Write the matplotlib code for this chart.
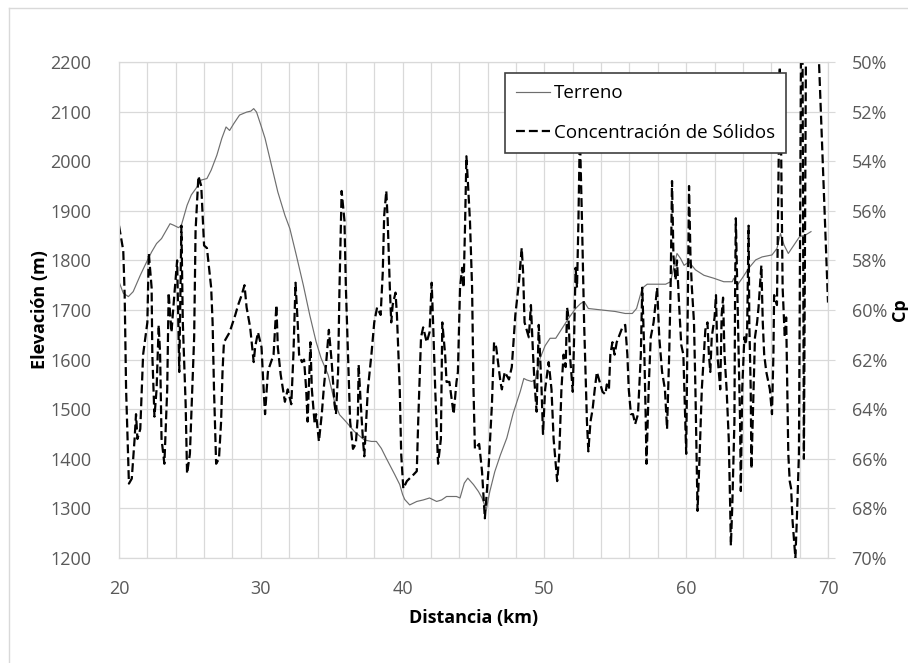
import matplotlib
matplotlib.use('Agg')
import matplotlib.pyplot as plt
from matplotlib.ticker import MultipleLocator, FuncFormatter
from matplotlib.lines import Line2D

plt.rcParams['font.family'] = ['Open Sans', 'DejaVu Sans']

# Terrain profile (km, m)
terreno_km = [20.0, 20.3, 20.66, 21.0, 21.5, 21.95, 22.3, 22.65, 23.0, 23.4, 23.6, 23.85, 24.2, 24.4,
              24.8, 25.1, 25.5, 25.8, 26.2, 26.5, 26.9, 27.25, 27.55, 27.8, 28.1, 28.5, 29.0, 29.3,
              29.5, 29.7, 30.0, 30.3, 30.75, 31.2, 31.7, 32.05, 32.5, 33.0, 33.45, 33.9, 34.25,
              34.75, 35.2, 35.55, 36.0, 36.6, 37.3, 37.8, 38.15, 38.5, 38.85, 39.45, 39.8, 40.0,
              40.15, 40.5, 41.0, 41.45, 41.9, 42.4, 42.75, 43.1, 43.45, 43.8, 44.05, 44.35, 44.6,
              45.0, 45.35, 45.6, 45.9, 46.15, 46.5, 46.9, 47.35, 47.8, 48.3, 48.55, 48.75, 49.1,
              49.35, 49.7, 50.05, 50.4, 50.8, 51.25, 51.7, 52.2, 52.55, 52.8, 53.1, 54.05, 55.0,
              55.7, 56.2, 56.5, 56.9, 57.25, 57.95, 58.55, 58.9, 59.1, 59.35, 59.6, 59.85, 60.2,
              60.65, 61.25, 61.95, 62.65, 63.25, 63.35, 63.6, 63.95, 64.4, 64.9, 65.35, 66.05,
              66.4, 66.65, 66.9, 67.2, 67.6, 68.0, 68.4, 68.8]
terreno_m = [1757, 1734, 1727, 1737, 1770, 1797, 1817, 1834, 1844, 1864, 1874, 1871, 1866, 1871,
             1911, 1932, 1948, 1962, 1965, 1982, 2012, 2046, 2069, 2062, 2076, 2093, 2099, 2101,
             2106, 2099, 2073, 2046, 1992, 1938, 1891, 1864, 1811, 1750, 1690, 1636, 1603,
             1569, 1515, 1489, 1475, 1455, 1438, 1435, 1435, 1421, 1401, 1368, 1348, 1328,
             1318, 1307, 1314, 1317, 1321, 1314, 1317, 1324, 1324, 1324, 1321, 1351, 1361,
             1348, 1334, 1321, 1297, 1334, 1374, 1408, 1442, 1492, 1536, 1562, 1559, 1556,
             1559, 1603, 1628, 1643, 1643, 1663, 1683, 1703, 1713, 1717, 1703, 1700, 1697,
             1693, 1693, 1703, 1744, 1752, 1752, 1752, 1757, 1784, 1814, 1804, 1790, 1797,
             1781, 1770, 1764, 1757, 1757, 1764, 1750, 1764, 1784, 1801, 1807, 1811,
             1824, 1854, 1831, 1814, 1831, 1848, 1851, 1858]

# Solids concentration (km, %)
cp_km = [20.0, 20.3, 20.4, 20.5, 20.7, 20.9, 21.1, 21.2, 21.3, 21.5, 21.7, 22.0, 22.1, 22.3, 22.35,
         22.5, 22.65, 22.8, 22.9, 23.0, 23.2, 23.4, 23.5, 23.7, 23.9, 24.1, 24.2, 24.25, 24.4,
         24.5, 24.7, 24.8, 25.0, 25.3, 25.4, 25.6, 25.8, 26.0, 26.2, 26.5, 26.6, 26.7, 26.85,
         27.05, 27.2, 27.3, 27.4, 27.8, 28.2, 28.4, 28.65, 28.85, 29.0, 29.25, 29.5, 29.6, 29.8,
         30.05, 30.2, 30.3, 30.5, 30.6, 30.9, 31.1, 31.2, 31.4, 31.7, 31.9, 32.15, 32.3, 32.45,
         32.6, 32.7, 32.9, 33.05, 33.2, 33.3, 33.5, 33.6, 33.8, 33.9, 34.1, 34.3, 34.45, 34.6,
         34.8, 35.0, 35.2, 35.3, 35.45, 35.55, 35.7, 35.9, 36.0, 36.15, 36.3, 36.5, 36.7, 36.85,
         36.9, 37.05, 37.2, 37.3, 37.55, 37.8, 38.0, 38.2, 38.45, 38.6, 38.7, 38.85, 38.95, 39.1,
         39.2, 39.3, 39.5, 39.6, 39.8, 39.9, 40.05, 40.3, 40.75, 41.0, 41.1, 41.3, 41.45, 41.7,
         41.9, 42.05, 42.15, 42.3, 42.5, 42.7, 42.8, 43.0, 43.1, 43.3, 43.6, 43.8, 43.9, 44.05,
         44.2, 44.3, 44.4, 44.5, 44.6, 44.75, 44.9, 45.0, 45.1, 45.4, 45.6, 45.8, 46.05, 46.3,
         46.45, 46.6, 46.9, 47.0, 47.2, 47.5, 47.7, 47.95, 48.2, 48.4, 48.5, 48.6, 48.9, 49.05,
         49.2, 49.3, 49.45, 49.6, 49.8, 49.9, 50.05, 50.3, 50.5, 50.65, 50.9, 51.05, 51.2, 51.35,
         51.5, 51.6, 51.7, 51.8, 52.0, 52.1, 52.2, 52.3, 52.4, 52.5, 52.65, 52.8, 52.9, 53.0,
         53.1, 53.25, 53.4, 53.55, 53.7, 53.9, 54.1, 54.3, 54.4, 54.55, 54.65, 54.8, 54.95, 55.1,
         55.3, 55.5, 55.7, 55.85, 55.95, 56.1, 56.25, 56.4, 56.6, 56.8, 56.9, 57.05, 57.15, 57.2,
         57.35, 57.5, 57.7, 57.95, 58.1, 58.3, 58.5, 58.65, 58.8, 58.9, 59.0, 59.1, 59.25, 59.35,
         59.5, 59.65, 59.8, 60.0, 60.1, 60.2, 60.3, 60.4, 60.55, 60.65, 60.75, 60.8, 60.95, 61.1,
         61.25, 61.35, 61.5, 61.6, 61.7, 61.8, 62.0, 62.1, 62.2, 62.4, 62.5, 62.6, 62.7, 62.85,
         63.0, 63.1, 63.15, 63.25, 63.4, 63.45, 63.5, 63.65, 63.8, 63.85, 63.95, 64.1, 64.2, 64.3,
         64.4, 64.45, 64.55, 64.6, 64.75, 64.85, 65.0, 65.1, 65.3, 65.4, 65.5, 65.65, 65.9, 66.05,
         66.15, 66.2, 66.4, 66.5, 66.6, 66.7, 66.8, 66.95, 67.05, 67.2, 67.3, 67.4, 67.5, 67.7,
         67.8, 67.95, 68.0, 68.1, 68.2, 68.3, 68.45, 69.3, 70.0]
cp_pct = [56.6, 57.6, 59.4, 63.2, 67.0, 66.8, 65.2, 64.2, 65.2, 64.8, 61.8, 60.5, 57.7, 59.1, 61.8,
          64.3, 63.2, 60.6, 61.8, 65.2, 66.2, 63.2, 59.3, 60.9, 59.4, 58.0, 60.9, 62.5, 56.6,
          60.5, 63.8, 66.6, 65.8, 61.1, 56.8, 54.6, 55.0, 57.4, 57.5, 59.1, 60.5, 63.2, 66.2,
          66.0, 64.5, 62.5, 61.3, 60.9, 60.2, 59.8, 59.4, 59.0, 59.9, 60.7, 62.1, 61.5, 60.9,
          61.5, 63.2, 64.2, 62.5, 62.3, 61.8, 59.8, 61.5, 62.6, 63.7, 63.2, 63.8, 61.8, 58.9,
          60.5, 61.8, 62.1, 62.0, 63.2, 64.5, 61.3, 63.2, 64.6, 64.2, 65.3, 64.2, 63.1, 62.2,
          60.8, 62.1, 63.8, 64.2, 62.5, 59.1, 55.2, 56.4, 59.1, 61.8, 64.5, 65.6, 65.4, 64.2,
          62.2, 63.8, 65.2, 65.9, 63.2, 61.8, 60.5, 59.9, 60.2, 58.5, 56.2, 55.2, 56.4, 59.1,
          60.5, 59.8, 59.3, 60.2, 63.2, 65.8, 67.2, 66.9, 66.65, 66.5, 64.5, 61.1, 60.7, 61.3,
          60.9, 58.9, 60.5, 63.2, 66.2, 65.2, 60.5, 61.8, 62.9, 62.9, 64.2, 62.9, 62.5, 59.1,
          58.3, 59.1, 56.7, 53.8, 54.8, 56.4, 59.1, 63.2, 65.6, 65.4, 66.5, 68.4, 66.5, 63.8,
          61.3, 61.5, 62.9, 63.2, 62.5, 62.8, 62.3, 60.2, 58.9, 57.5, 58.5, 60.5, 61.1, 59.8,
          61.8, 62.9, 64.1, 60.6, 63.2, 65.0, 63.2, 62.1, 63.2, 65.2, 66.9, 65.8, 63.2, 61.8,
          62.3, 59.9, 60.3, 61.8, 63.3, 61.0, 58.3, 59.1, 56.4, 52.8, 56.4, 60.5, 62.5, 64.5,
          65.7, 64.5, 64.0, 63.2, 62.5, 62.9, 63.3, 63.4, 63.0, 63.2, 61.8, 61.3, 61.8, 61.3,
          61.0, 60.7, 60.6, 61.8, 63.2, 64.2, 64.2, 64.6, 64.2, 61.8, 59.1, 61.8, 64.5, 66.2,
          63.2, 61.1, 60.5, 59.1, 61.1, 62.5, 63.2, 64.8, 61.8, 59.1, 54.8, 57.8, 58.8, 58.0,
          59.8, 61.4, 61.8, 65.8, 60.5, 55.0, 57.8, 59.1, 60.5, 63.2, 66.5, 68.1, 65.8, 63.2,
          61.8, 60.8, 60.5, 61.8, 62.5, 61.1, 60.3, 59.4, 61.8, 63.2, 60.2, 59.5, 61.8, 63.2,
          65.2, 67.9, 69.5, 67.9, 64.5, 59.1, 56.3, 60.5, 64.5, 67.3, 63.2, 61.1, 61.4, 60.7,
          56.6, 60.5, 63.2, 66.4, 63.2, 61.1, 60.5, 59.9, 58.2, 60.5, 61.8, 62.5, 63.2, 64.2,
          61.8, 59.4, 59.8, 55.0, 50.2, 53.8, 59.1, 61.1, 60.3, 65.8, 66.9, 67.2, 68.5, 70.0,
          68.5, 65.8, 60.5, 49.0, 49.0, 66.0, 49.0, 49.0, 59.7]

W, H = 908, 663
fig = plt.figure(figsize=(W / 100, H / 100), dpi=100)
ax = fig.add_axes([119 / W, 1 - 558 / H, (828 - 119) / W, (558 - 62) / H])
ax2 = ax.twinx()

grid_c = '#D9D9D9'
tick_c = '#595959'

# Terrain on primary axis
l1, = ax.plot(terreno_km, terreno_m, color='#6E6E6E', lw=0.85, label='Terreno')
ax.set_xlim(20, 70)
ax.set_ylim(1200, 2200)
ax.xaxis.set_major_locator(MultipleLocator(10))
ax.xaxis.set_minor_locator(MultipleLocator(2))
ax.yaxis.set_major_locator(MultipleLocator(100))
ax.grid(True, which='both', color=grid_c, lw=0.9)
ax.set_axisbelow(True)
ax.tick_params(axis='both', which='both', length=0, labelcolor=tick_c, labelsize=13)
ax.tick_params(axis='x', pad=16)
ax.tick_params(axis='y', pad=20)
ax.set_xlabel('Distancia (km)', fontsize=13, fontweight='bold', labelpad=8)
for s in ax.spines.values():
    s.set_color(grid_c)

# Cp on secondary axis (inverted)
l2, = ax2.plot(cp_km, cp_pct, color='black', lw=1.6, dashes=(4, 1.8),
               label='Concentración de Sólidos')
ax2.set_ylim(70, 50)
ax2.yaxis.set_major_locator(MultipleLocator(2))
ax2.yaxis.set_major_formatter(FuncFormatter(lambda v, p: '%d%%' % round(v)))
ax2.tick_params(axis='y', length=5, color=grid_c, labelcolor=tick_c, labelsize=13, pad=12)
for s in ax2.spines.values():
    s.set_color(grid_c)

fig.text(40 / W, 1 - 310 / H, 'Elevación (m)', rotation=90, ha='center', va='center',
         fontsize=13, fontweight='bold')
fig.text(900 / W, 1 - 310 / H, 'Cp', rotation=90, ha='center', va='center',
         fontsize=13, fontweight='bold')

leg = ax2.legend(handles=[l1, l2], loc='upper left', bbox_to_anchor=(505 / W, 1 - 73 / H),
                 bbox_transform=fig.transFigure, borderaxespad=0, fontsize=13.5,
                 fancybox=False, framealpha=1, edgecolor='#404040', handlelength=1.8,
                 handletextpad=0.2, labelspacing=1.15, borderpad=0.6)
leg.get_frame().set_linewidth(1.2)

# outer chart border
fig.add_artist(Line2D([9 / W, 9 / W], [0, 1 - 8 / H], color=grid_c, lw=1, transform=fig.transFigure))
fig.add_artist(Line2D([9 / W, 1], [1 - 8 / H, 1 - 8 / H], color=grid_c, lw=1, transform=fig.transFigure))

fig.savefig('out.png', dpi=100)
